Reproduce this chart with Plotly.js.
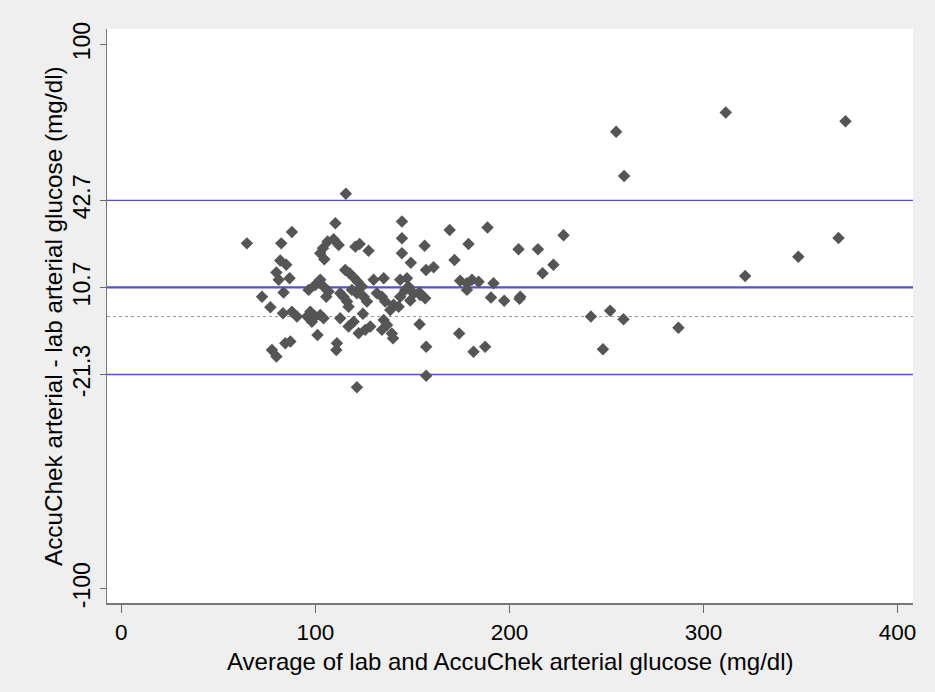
<!DOCTYPE html>
<html>
<head>
<meta charset="utf-8">
<script src="https://cdn.plot.ly/plotly-3.0.1.min.js"></script>
<style>
html,body{margin:0;padding:0;background:#efefef;}
#chart{width:935px;height:692px;}
</style>
</head>
<body>
<div id="chart"></div>
<script>
// Average of lab and AccuChek arterial glucose (mg/dl)
var avgGlucose = [
  311.5, 373.2, 255.0, 259.1, 369.6, 348.9, 321.5, 227.9, 204.7, 214.7,
  222.7, 217.1, 197.3, 205.6, 205.2, 242.0, 251.9, 258.8, 248.2, 287.1,
  115.7, 64.7, 82.4, 87.9, 110.3, 109.4, 106.3, 103.9, 102.5, 104.6,
  112.0, 120.6, 122.8, 127.4, 81.9, 85.0, 79.9, 81.1, 86.7, 144.6,
  144.6, 144.6, 149.2, 156.3, 157.0, 160.9, 169.2, 178.9, 171.7, 188.7,
  174.6, 178.1, 180.7, 184.1, 178.1, 191.8, 190.5, 174.1, 181.5, 187.5,
  157.1, 157.1, 121.4, 153.7, 72.5, 76.8, 83.3, 87.9, 90.5, 83.6,
  96.5, 99.9, 102.5, 104.2, 106.8, 105.6, 97.4, 99.9, 102.5, 104.2,
  101.1, 111.1, 110.8, 112.8, 114.5, 116.3, 117.1, 115.4, 117.6, 119.7,
  121.8, 124.0, 118.8, 121.4, 124.9, 126.6, 112.8, 117.1, 119.7, 124.5,
  122.3, 125.7, 128.3, 130.0, 135.2, 131.7, 134.3, 136.0, 135.2, 136.9,
  134.3, 138.6, 140.3, 142.9, 139.4, 140.0, 143.7, 146.3, 148.0, 143.7,
  147.2, 150.6, 154.0, 156.6, 148.9, 95.7, 98.2, 77.6, 79.9, 84.5,
  87.1, 153.6
];
// AccuChek arterial - lab arterial glucose (mg/dl)
var diffGlucose = [
  75.0, 71.8, 67.9, 51.7, 28.9, 22.0, 14.9, 29.9, 24.7, 24.7,
  19.0, 15.9, 5.8, 7.3, 6.5, 0.0, 2.1, -1.0, -12.0, -4.1,
  45.1, 26.9, 26.9, 31.1, 34.3, 28.4, 27.6, 25.1, 23.3, 21.1,
  26.3, 25.7, 26.7, 24.2, 20.6, 19.0, 16.2, 13.5, 14.1, 34.9,
  28.8, 23.3, 19.8, 26.0, 17.1, 18.1, 31.8, 26.7, 20.8, 32.7,
  13.2, 12.2, 13.5, 12.8, 9.8, 12.2, 7.0, -6.2, -12.9, -11.1,
  -11.1, -21.8, -26.0, -2.8, 7.3, 3.4, 1.2, 1.8, 0.0, 8.8,
  9.8, 11.6, 13.5, 11.0, 9.2, 7.3, 1.8, 0.0, 0.6, -0.6,
  -6.8, -9.8, -12.3, 8.6, 7.3, 5.5, 3.6, 17.1, 15.9, 14.4,
  12.8, 11.0, 9.8, 8.6, 7.3, 5.5, -0.6, -3.7, -1.9, 1.0,
  -6.1, -4.9, -3.7, 13.5, 14.1, 8.6, 7.3, 5.5, -1.3, -3.1,
  -4.9, 2.4, 4.3, 3.6, -6.2, -8.0, 7.3, 9.8, 11.0, 13.5,
  14.1, 8.5, 7.9, 6.7, 5.9, 0.0, -1.9, -12.3, -14.7, -9.8,
  -9.2, 8.8
];
// Reference lines: mean difference and 95% limits of agreement, plus zero line
var meanDiff = 10.7;
var upperLimit = 42.7;
var lowerLimit = -21.3;
var zeroLine = 0;
// Tick labels and titles
var xTicks = [0, 100, 200, 300, 400];
var yTicks = [100, 42.7, 10.7, -21.3, -100];
var yTickText = ['100', '42.7', '10.7', '-21.3', '-100'];
var xTitle = 'Average of lab and AccuChek arterial glucose (mg/dl)';
var yTitle = 'AccuChek arterial - lab arterial glucose (mg/dl)';

var font = 'Liberation Sans, Arial, Helvetica, sans-serif';
var blue = 'rgb(82,82,208)';

var trace = {
  x: avgGlucose,
  y: diffGlucose,
  type: 'scatter',
  mode: 'markers',
  marker: {symbol: 'diamond', size: 9.6, color: 'rgb(85,85,85)', line: {width: 0}},
  hoverinfo: 'x+y'
};

function hline(y, color, width, dash) {
  return {type: 'line', xref: 'paper', x0: 0, x1: 1, yref: 'y', y0: y, y1: y,
          line: {color: color, width: width, dash: dash || 'solid'}, layer: 'below'};
}

var layout = {
  width: 935, height: 692,
  paper_bgcolor: '#efefef',
  plot_bgcolor: '#ffffff',
  margin: {l: 107, r: 22, t: 29, b: 89},
  showlegend: false,
  font: {family: font, color: '#000', size: 23},
  xaxis: {
    range: [-7.4, 408],
    tickmode: 'array', tickvals: xTicks,
    ticks: 'outside', ticklen: 8, tickwidth: 1.3, tickcolor: '#666',
    showline: true, linecolor: '#777', linewidth: 1.5,
    showgrid: false, zeroline: false,
    tickfont: {size: 22.5, family: font, color: '#000'}
  },
  yaxis: {
    range: [-105.3, 105.7],
    tickmode: 'array', tickvals: yTicks, ticktext: yTickText,
    tickangle: -90,
    ticks: 'outside', ticklen: 6, tickwidth: 1.3, tickcolor: '#666',
    showline: true, linecolor: '#777', linewidth: 1.5,
    showgrid: false, zeroline: false,
    tickfont: {size: 23, family: font, color: '#000'}
  },
  annotations: [
    {text: xTitle, xref: 'paper', yref: 'paper', x: 0.5, y: 0,
     xanchor: 'center', yanchor: 'middle', yshift: -58, showarrow: false,
     font: {size: 24, family: font, color: '#000'}},
    {text: yTitle, xref: 'paper', yref: 'paper', x: 0, y: 0.5,
     xanchor: 'center', yanchor: 'middle', xshift: -54, textangle: -90, showarrow: false,
     font: {size: 24.3, family: font, color: '#000'}}
  ],
  shapes: [
    hline(zeroLine, 'rgb(150,150,150)', 1, 'dot'),
    hline(upperLimit, blue, 1.3),
    hline(meanDiff, blue, 2.2),
    hline(lowerLimit, blue, 1.3)
  ]
};

Plotly.newPlot('chart', [trace], layout, {displayModeBar: false, staticPlot: true});
</script>
</body>
</html>
